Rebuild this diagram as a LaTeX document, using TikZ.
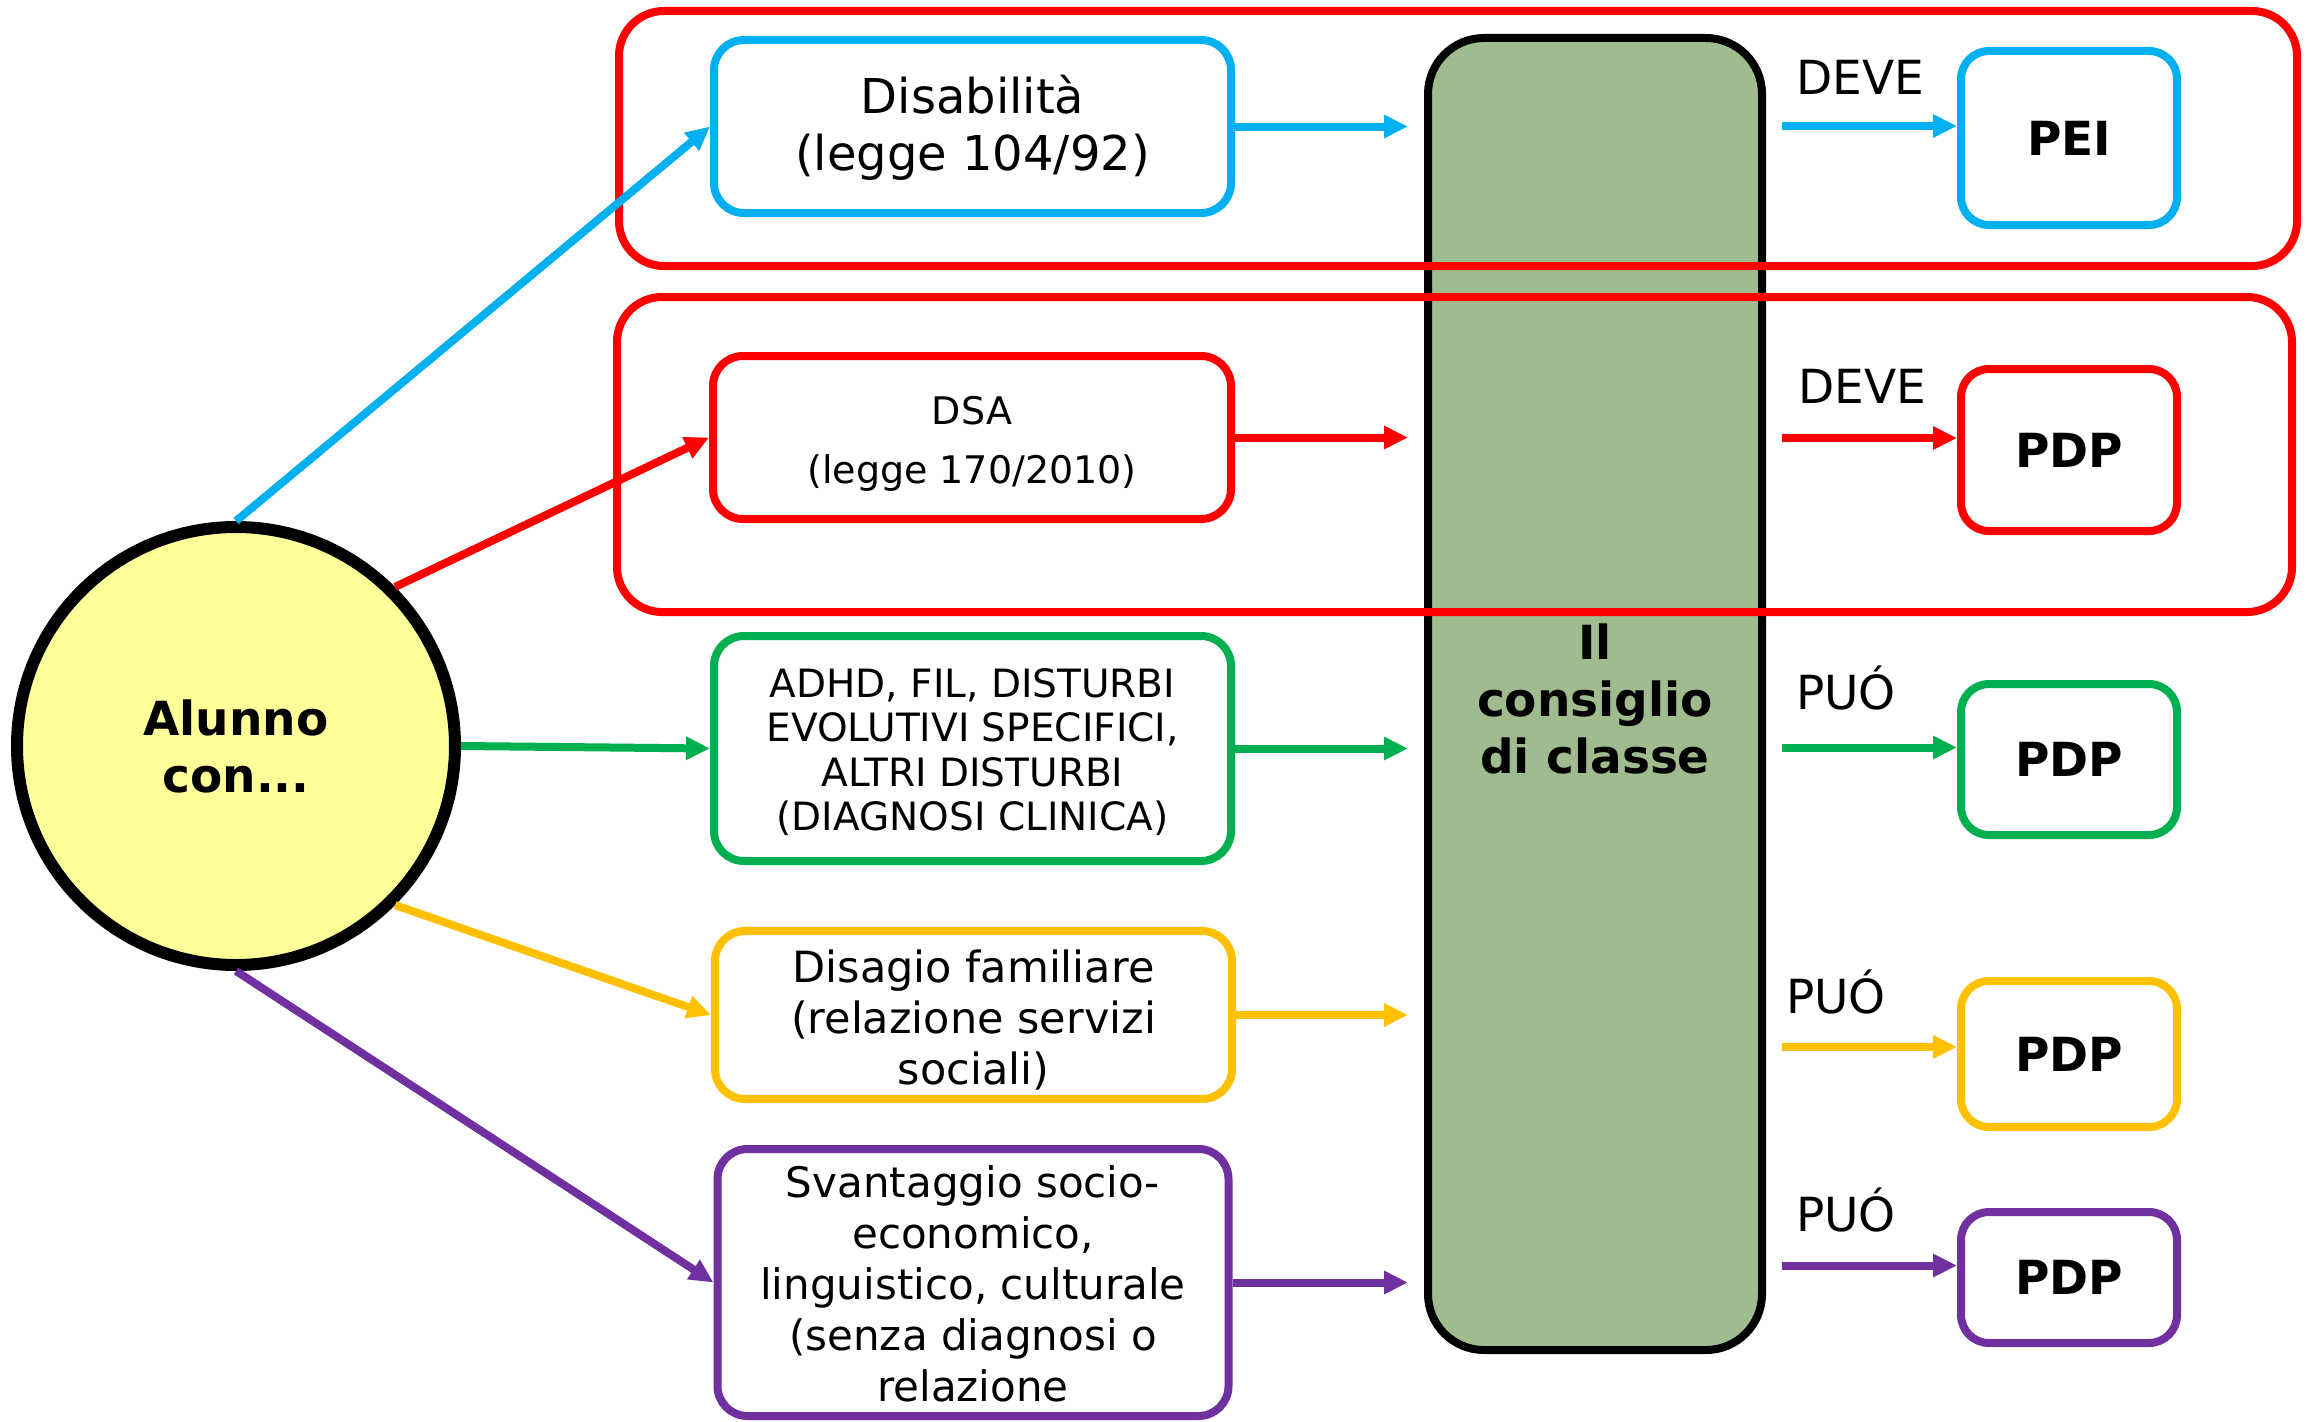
\documentclass[tikz,border=0pt]{standalone}
\usepackage{fontspec}
\setmainfont{DejaVu Sans}
\usetikzlibrary{arrows.meta}

\definecolor{cblue}{HTML}{00B0F0}
\definecolor{cred}{HTML}{FF0000}
\definecolor{cgreen}{HTML}{00B050}
\definecolor{cyellow}{HTML}{FFC000}
\definecolor{cpurple}{HTML}{7030A0}
\definecolor{pupil}{HTML}{FFFF99}
\definecolor{council}{HTML}{A0BC8E}

% invisible strut that lowers a text block a little
\newcommand{\lift}[1]{\rule{0pt}{#1}}

\begin{document}
\begin{tikzpicture}[x=1pt,y=-1pt,
  box/.style={draw, line width=8pt, rounded corners=30pt, inner sep=0pt,
              align=center, fill=white},
  frame/.style={draw=cred, line width=8pt, rounded corners=45pt, inner sep=0pt},
  conn/.style={line width=8pt, -{Triangle[length=24pt,width=22pt]}},
  lab/.style={font=\fontsize{47}{56}\selectfont, inner sep=0pt},
  plan/.style={box, rounded corners=28pt, minimum width=216pt,
               font=\fontsize{47}{56}\selectfont\bfseries},
]
\useasboundingbox (0,0) rectangle (2306,1421);

% class council column
\node[draw, line width=8pt, fill=council, rounded corners=56pt, inner sep=0pt,
      minimum width=334pt, minimum height=1312pt, align=center,
      font=\fontsize{47}{57}\selectfont\bfseries] (cdc) at (1595,694)
      {\lift{45pt}Il\\consiglio\\di classe};

% mandatory groups
\node[frame, minimum width=1678pt, minimum height=255pt] (frameA) at (1458,138.5) {};
\node[frame, minimum width=1675pt, minimum height=315pt] (frameB) at (1454.5,454.5) {};

% the pupil
\node[circle, draw, line width=12pt, fill=pupil, minimum size=438pt, inner sep=0pt,
      align=center, font=\fontsize{47}{57}\selectfont\bfseries] (alunno) at (236,746)
      {Alunno\\con...};

% categories
\node[box, draw=cblue, minimum width=517pt, minimum height=173pt,
      font=\fontsize{48}{57}\selectfont] (dis) at (972.5,126.5)
      {\lift{40pt}Disabilità\\(legge 104/92)};
\node[box, draw=cred, minimum width=518pt, minimum height=163pt,
      font=\fontsize{38}{59}\selectfont] (dsa) at (972,437.5)
      {\lift{40pt}DSA\\(legge 170/2010)};
\node[box, draw=cgreen, minimum width=517pt, minimum height=225pt,
      font=\fontsize{39}{44.5}\selectfont] (adhd) at (972.5,748.5)
      {\lift{36pt}ADHD, FIL, DISTURBI\\EVOLUTIVI SPECIFICI,\\ALTRI DISTURBI\\(DIAGNOSI CLINICA)};
\node[box, draw=cyellow, minimum width=517pt, minimum height=168pt,
      font=\fontsize{43}{51}\selectfont] (disagio) at (973.5,1015)
      {\lift{42pt}Disagio familiare\\(relazione servizi\\sociali)};
\node[box, draw=cpurple, minimum width=511pt, minimum height=267pt,
      font=\fontsize{42}{51}\selectfont] (svant) at (973,1282.5)
      {\lift{34pt}Svantaggio socio-\\economico,\\linguistico, culturale\\(senza diagnosi o\\relazione};

% plans
\node[plan, draw=cblue, minimum height=174pt] (pei) at (2069,138) {PEI};
\node[plan, draw=cred, minimum height=162pt] (pdpA) at (2069,450) {PDP};
\node[plan, draw=cgreen, minimum height=151pt] (pdpB) at (2069,759.5) {PDP};
\node[plan, draw=cyellow, minimum height=146pt] (pdpC) at (2069,1054) {PDP};
\node[plan, draw=cpurple, minimum height=131pt] (pdpD) at (2069,1277.5) {PDP};

% obligation labels
\node[lab] (lA) at (1860,77) {DEVE};
\node[lab] (lB) at (1862,386) {DEVE};
\node[lab] (lC) at (1846,688) {PUÓ};
\node[lab] (lD) at (1836,992) {PUÓ};
\node[lab] (lE) at (1846,1210) {PUÓ};

% pupil -> categories
\draw[conn, cblue] (alunno.north) -- (dis.west);
\draw[conn, cred] (alunno.north east) -- (dsa.west);
\draw[conn, cgreen] (alunno.east) -- (adhd.west);
\draw[conn, cyellow] (alunno.south east) -- (disagio.west);
\draw[conn, cpurple] (alunno.south) -- (svant.west);

% categories -> council
\draw[conn, cblue, shorten >=16pt] (dis.east) -- (dis.east -| cdc.west);
\draw[conn, cred, shorten >=16pt] (dsa.east) -- (dsa.east -| cdc.west);
\draw[conn, cgreen, shorten >=16pt] (adhd.east) -- (adhd.east -| cdc.west);
\draw[conn, cyellow, shorten >=16pt] (disagio.east) -- (disagio.east -| cdc.west);
\draw[conn, cpurple, shorten >=16pt] (svant.east) -- (svant.east -| cdc.west);

% council -> plans
\coordinate (inA) at ([yshift=12pt]pei.west);
\coordinate (inB) at ([yshift=12pt]pdpA.west);
\coordinate (inC) at ([yshift=12pt]pdpB.west);
\coordinate (inD) at ([yshift=7pt]pdpC.west);
\coordinate (inE) at ([yshift=12pt]pdpD.west);
\draw[conn, cblue, shorten <=16pt] (inA -| cdc.east) -- (inA);
\draw[conn, cred, shorten <=16pt] (inB -| cdc.east) -- (inB);
\draw[conn, cgreen, shorten <=16pt] (inC -| cdc.east) -- (inC);
\draw[conn, cyellow, shorten <=16pt] (inD -| cdc.east) -- (inD);
\draw[conn, cpurple, shorten <=16pt] (inE -| cdc.east) -- (inE);
\end{tikzpicture}
\end{document}
